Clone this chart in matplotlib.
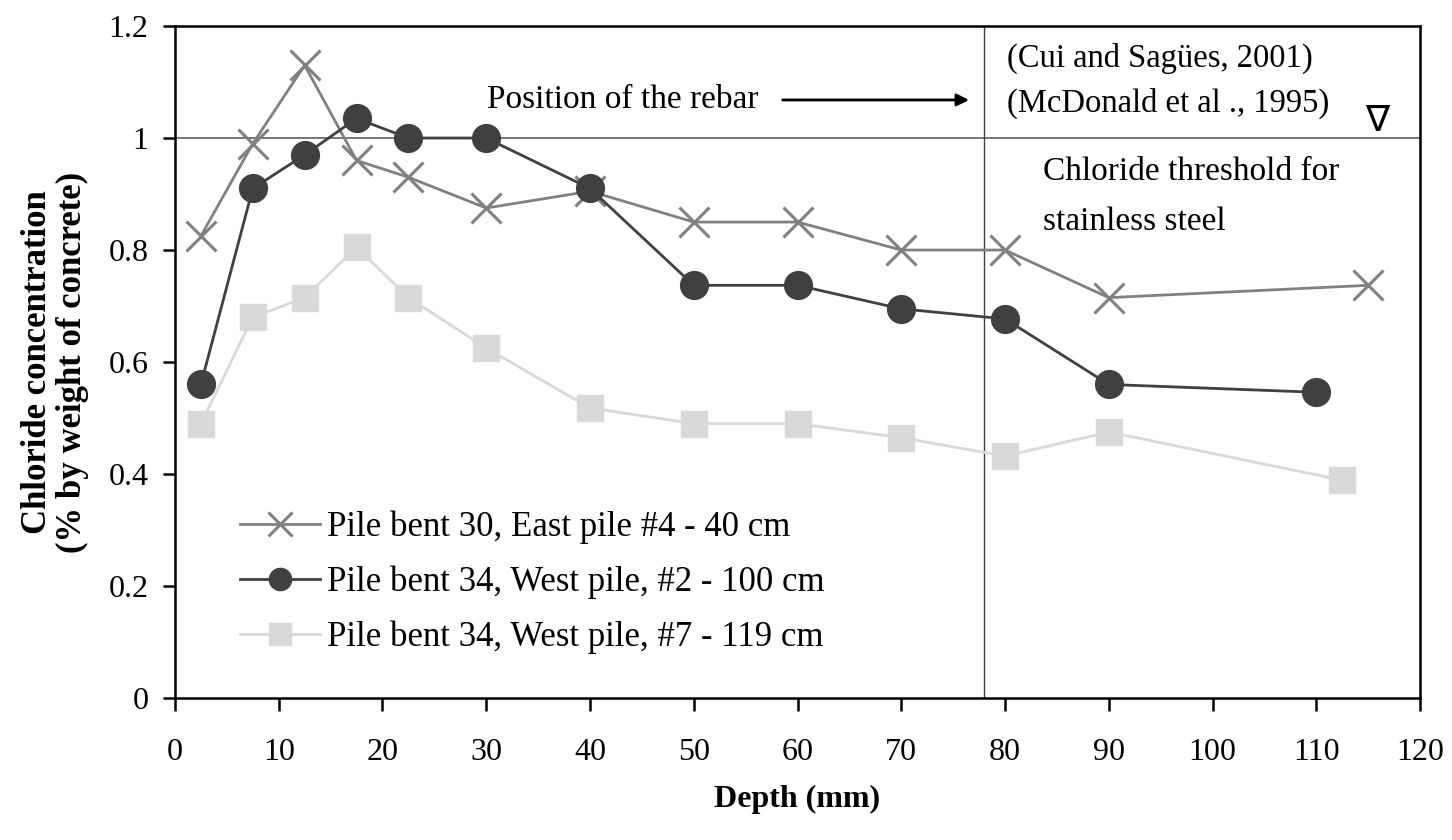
import numpy as np
import matplotlib
matplotlib.use("Agg")
import matplotlib.pyplot as plt

plt.rcParams['font.family'] = ['Liberation Serif', 'DejaVu Sans']

# depth (mm) and chloride concentration (% by weight of concrete)
depth_e4 = [2.5, 7.5, 12.5, 17.5, 22.5, 30, 40, 50, 60, 70, 80, 90, 115]
conc_e4 = [0.825, 0.99, 1.13, 0.96, 0.93, 0.875, 0.905, 0.85, 0.85, 0.80, 0.80, 0.715, 0.737]

depth_w2 = [2.5, 7.5, 12.5, 17.5, 22.5, 30, 40, 50, 60, 70, 80, 90, 110]
conc_w2 = [0.56, 0.91, 0.97, 1.035, 1.0, 1.0, 0.91, 0.737, 0.737, 0.695, 0.677, 0.56, 0.546]

depth_w7 = [2.5, 7.5, 12.5, 17.5, 22.5, 30, 40, 50, 60, 70, 80, 90, 112.5]
conc_w7 = [0.49, 0.68, 0.715, 0.805, 0.715, 0.625, 0.518, 0.49, 0.49, 0.465, 0.432, 0.475, 0.389]

labels = ["Pile bent 30, East pile #4 - 40 cm",
          "Pile bent 34, West pile, #2 - 100 cm",
          "Pile bent 34, West pile, #7 - 119 cm"]

threshold = 1.0
rebar_depth = 78

fig = plt.figure(figsize=(14.52, 8.4), dpi=100)
ax = fig.add_axes([0.1205, 0.169, 0.8575, 0.8])

ax.axhline(threshold, color='#606060', lw=1.2, zorder=1)
ax.axvline(rebar_depth, color='#404040', lw=1.0, zorder=1)

ax.plot(depth_e4, conc_e4, color='#808080', lw=2, marker='x', ms=21, mew=2.2,
        label=labels[0], zorder=3)
ax.plot(depth_w2, conc_w2, color='#404040', lw=2, marker='o', ms=20,
        label=labels[1], zorder=4)
ax.plot(depth_w7, conc_w7, color='#d9d9d9', lw=2, marker='s', ms=19,
        label=labels[2], zorder=2)

ax.set_xlim(0, 120)
ax.set_ylim(0, 1.2)
ax.set_xticks(np.arange(0, 121, 10))
ax.set_yticks(np.arange(0, 1.21, 0.2))
ax.set_yticklabels(['0', '0.2', '0.4', '0.6', '0.8', '1', '1.2'])
ax.tick_params(labelsize=23, length=9, width=1.8, direction='out')
ax.tick_params(axis='x', pad=20)
ax.tick_params(axis='y', pad=10)
for s in ax.spines.values():
    s.set_linewidth(1.8)

ax.set_xlabel("Depth (mm)", fontsize=23, fontweight='bold', labelpad=13)
ax.set_ylabel("Chloride concentration\n(% by weight of concrete)", fontsize=25,
              fontweight='bold', labelpad=14, linespacing=1.1)

ax.text(30.1, 1.068, "Position of the rebar", fontsize=24, va='center', ha='left')
ax.annotate("", xy=(76.8, 1.068), xytext=(58.3, 1.068),
            arrowprops=dict(arrowstyle='-|>', color='black', lw=2, mutation_scale=18))
ax.text(80.2, 1.143, "(Cui and Sagües, 2001)", fontsize=23.5, va='center', ha='left')
ax.text(80.2, 1.0625, "(McDonald et al ., 1995)", fontsize=23.5, va='center', ha='left')
ax.text(115.9, 1.03, "∇", fontsize=26, va='center', ha='center')
ax.text(83.7, 0.939, "Chloride threshold for", fontsize=24, va='center', ha='left')
ax.text(83.7, 0.85, "stainless steel", fontsize=24, va='center', ha='left')

ax.legend(loc='upper left', bbox_to_anchor=(0.041, 0.3), frameon=False,
          fontsize=25, handlelength=2.3, handletextpad=0.22, labelspacing=0.62,
          markerscale=0.8, borderaxespad=0)

fig.savefig("out.png", dpi=100)
